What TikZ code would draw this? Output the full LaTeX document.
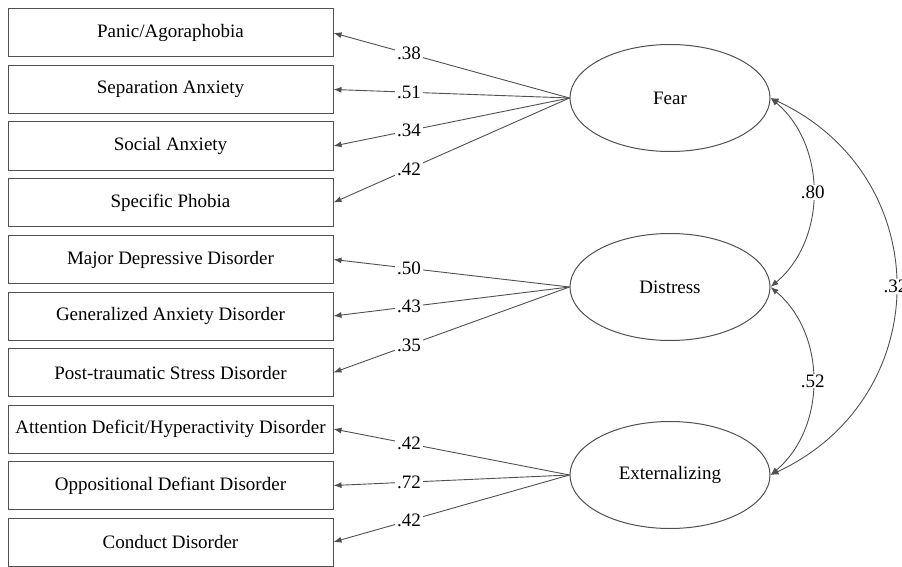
\documentclass[tikz,border=0pt]{standalone}
\usepackage{fontspec}
\setmainfont{Liberation Serif}
\usepackage{tikz}
\usetikzlibrary{shapes,arrows.meta,positioning}
\usepackage{xcolor}
\definecolor{pathgray}{RGB}{80,80,80}
\tikzset{
    indicator/.style={rectangle, draw=pathgray, line width=1pt, minimum width=325pt, minimum height=48pt, inner sep=0pt, font=\fontsize{19}{22}\selectfont},
    factor/.style={ellipse, draw=pathgray, line width=1pt, minimum width=200pt, minimum height=107pt, inner sep=0pt, font=\fontsize{19}{22}\selectfont},
    load/.style={-{Latex[length=8pt,width=6pt]}, draw=pathgray, line width=0.9pt},
    cov/.style={{Latex[length=8pt,width=6pt]}-{Latex[length=8pt,width=6pt]}, draw=pathgray, line width=0.9pt},
    coef/.style={fill=white, inner sep=2pt, font=\fontsize{19}{22}\selectfont},
}

\begin{document}
\begin{tikzpicture}[x=1pt, y=-1pt]
    \useasboundingbox (0,0) rectangle (902,567);

    % Observed disorders
    \node[indicator] (pan) at (170.5,33) {Panic/Agoraphobia};
    \node[indicator] (sep) at (170.5,89.5) {Separation Anxiety};
    \node[indicator] (soc) at (170.5,146) {Social Anxiety};
    \node[indicator] (spe) at (170.5,202.5) {Specific Phobia};
    \node[indicator] (mdd) at (170.5,259.5) {Major Depressive Disorder};
    \node[indicator] (gad) at (170.5,316) {Generalized Anxiety Disorder};
    \node[indicator] (pts) at (170.5,372.5) {Post-traumatic Stress Disorder};
    \node[indicator] (adh) at (170.5,429) {Attention Deficit/Hyperactivity Disorder};
    \node[indicator] (odd) at (170.5,485.5) {Oppositional Defiant Disorder};
    \node[indicator] (cd) at (170.5,542) {Conduct Disorder};

    % Latent factors
    \node[factor] (fear) at (670,98) {Fear};
    \node[factor] (dis) at (670,287) {Distress};
    \node[factor] (ext) at (670,475) {Externalizing};

    % Loadings
    \draw[load] (fear.west) -- (pan.east) node[coef, pos=0.68] {.38};
    \draw[load] (fear.west) -- (sep.east) node[coef, pos=0.68] {.51};
    \draw[load] (fear.west) -- (soc.east) node[coef, pos=0.68] {.34};
    \draw[load] (fear.west) -- (spe.east) node[coef, pos=0.68] {.42};
    \draw[load] (dis.west) -- (mdd.east) node[coef, pos=0.68] {.50};
    \draw[load] (dis.west) -- (gad.east) node[coef, pos=0.68] {.43};
    \draw[load] (dis.west) -- (pts.east) node[coef, pos=0.68] {.35};
    \draw[load] (ext.west) -- (adh.east) node[coef, pos=0.68] {.42};
    \draw[load] (ext.west) -- (odd.east) node[coef, pos=0.68] {.72};
    \draw[load] (ext.west) -- (cd.east) node[coef, pos=0.68] {.42};

    % Factor correlations
    \draw[cov] (fear.east) to[bend left=50] node[coef, inner sep=1pt] {.80} (dis.east);
    \draw[cov] (dis.east) to[bend left=50] node[coef, inner sep=1pt] {.52} (ext.east);
    \draw[cov] (fear.east) to[bend left=65, looseness=1.25] node[coef, inner sep=1pt] {.32} (ext.east);
\end{tikzpicture}
\end{document}
